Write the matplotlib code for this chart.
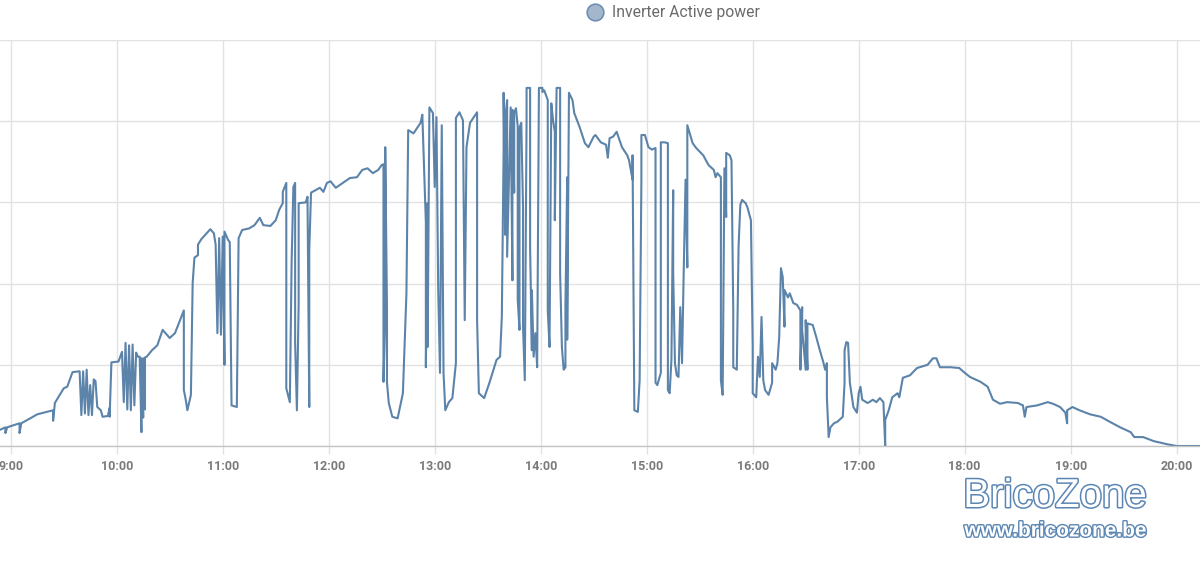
import matplotlib
matplotlib.use("Agg")
import matplotlib.pyplot as plt
from matplotlib.lines import Line2D
import matplotlib.patheffects as pe

# ---- data ----
times = [
    "08:54", "08:57", "08:57", "08:58", "09:05", "09:05", "09:06", "09:11", "09:15", "09:24",
    "09:24", "09:25", "09:30", "09:32", "09:35", "09:39", "09:40", "09:41", "09:42", "09:43",
    "09:44", "09:45", "09:46", "09:47", "09:48", "09:49", "09:51", "09:52", "09:55", "09:56",
    "09:56", "09:57", "10:01", "10:03", "10:04", "10:05", "10:06", "10:07", "10:08", "10:09",
    "10:10", "10:11", "10:12", "10:13", "10:14", "10:14", "10:15", "10:15", "10:16", "10:16",
    "10:17", "10:20", "10:23", "10:26", "10:30", "10:33", "10:38", "10:38", "10:39", "10:40",
    "10:42", "10:43", "10:44", "10:46", "10:46", "10:48", "10:53", "10:55", "10:56", "10:57",
    "10:58", "10:59", "11:00", "11:01", "11:01", "11:03", "11:04", "11:05", "11:08", "11:09",
    "11:11", "11:15", "11:18", "11:21", "11:23", "11:27", "11:30", "11:32", "11:34", "11:34",
    "11:36", "11:36", "11:38", "11:39", "11:40", "11:41", "11:41", "11:42", "11:43", "11:43",
    "11:47", "11:48", "11:49", "11:49", "11:50", "11:55", "11:57", "11:59", "12:01", "12:04",
    "12:08", "12:12", "12:16", "12:19", "12:22", "12:25", "12:28", "12:30", "12:31", "12:31",
    "12:32", "12:32", "12:33", "12:33", "12:34", "12:36", "12:39", "12:42", "12:44", "12:45",
    "12:48", "12:52", "12:53", "12:55", "12:55", "12:56", "12:56", "12:57", "12:59", "13:00",
    "13:01", "13:02", "13:03", "13:04", "13:05", "13:06", "13:08", "13:10", "13:12", "13:12",
    "13:14", "13:16", "13:17", "13:18", "13:20", "13:24", "13:24", "13:25", "13:28", "13:31",
    "13:35", "13:37", "13:38", "13:39", "13:39", "13:40", "13:40", "13:41", "13:41", "13:43",
    "13:44", "13:44", "13:45", "13:45", "13:46", "13:47", "13:47", "13:48", "13:48", "13:49",
    "13:50", "13:50", "13:51", "13:52", "13:52", "13:54", "13:54", "13:55", "13:55", "13:56",
    "13:57", "13:58", "13:59", "14:01", "14:01", "14:02", "14:04", "14:04", "14:04", "14:05",
    "14:06", "14:07", "14:08", "14:08", "14:09", "14:11", "14:11", "14:12", "14:13", "14:14",
    "14:14", "14:15", "14:15", "14:16", "14:18", "14:19", "14:22", "14:25", "14:27", "14:30",
    "14:31", "14:34", "14:37", "14:38", "14:39", "14:41", "14:43", "14:46", "14:49", "14:50",
    "14:52", "14:52", "14:53", "14:55", "14:56", "14:57", "14:57", "14:59", "15:01", "15:03",
    "15:05", "15:05", "15:06", "15:08", "15:08", "15:10", "15:12", "15:12", "15:13", "15:14",
    "15:15", "15:15", "15:16", "15:17", "15:18", "15:19", "15:20", "15:21", "15:22", "15:23",
    "15:23", "15:23", "15:26", "15:28", "15:32", "15:35", "15:38", "15:39", "15:40", "15:42",
    "15:42", "15:43", "15:44", "15:45", "15:45", "15:47", "15:48", "15:49", "15:49", "15:51",
    "15:52", "15:53", "15:54", "15:56", "15:57", "15:59", "16:00", "16:00", "16:02", "16:03",
    "16:04", "16:05", "16:06", "16:07", "16:09", "16:11", "16:11", "16:13", "16:14", "16:15",
    "16:16", "16:17", "16:18", "16:18", "16:20", "16:21", "16:23", "16:25", "16:27", "16:27",
    "16:28", "16:28", "16:30", "16:30", "16:31", "16:31", "16:34", "16:36", "16:38", "16:40",
    "16:41", "16:42", "16:42", "16:43", "16:44", "16:46", "16:48", "16:51", "16:52", "16:52",
    "16:53", "16:54", "16:55", "16:57", "16:59", "17:00", "17:01", "17:02", "17:05", "17:06",
    "17:08", "17:10", "17:12", "17:14", "17:15", "17:15", "17:17", "17:19", "17:22", "17:23",
    "17:25", "17:29", "17:33", "17:39", "17:42", "17:44", "17:46", "17:52", "17:57", "17:59",
    "18:03", "18:09", "18:13", "18:16", "18:20", "18:24", "18:30", "18:33", "18:34", "18:35",
    "18:41", "18:47", "18:50", "18:54", "18:57", "18:58", "18:58", "19:01", "19:05", "19:11",
    "19:17", "19:22", "19:28", "19:34", "19:36", "19:41", "19:47", "19:55", "20:00", "20:13",
]
power_kw = [
    0.20, 0.23, 0.16, 0.23, 0.28, 0.16, 0.28, 0.34, 0.39, 0.44,
    0.31, 0.53, 0.71, 0.73, 0.91, 0.92, 0.38, 0.92, 0.40, 0.94,
    0.38, 0.75, 0.38, 0.82, 0.80, 0.48, 0.44, 0.36, 0.37, 0.47,
    0.36, 1.03, 1.04, 1.16, 0.54, 1.27, 0.45, 1.24, 0.44, 1.25,
    0.50, 1.15, 1.10, 1.10, 0.17, 1.08, 0.35, 1.08, 0.45, 1.09,
    1.10, 1.18, 1.24, 1.43, 1.33, 1.39, 1.67, 0.69, 0.58, 0.44,
    0.63, 2.01, 2.32, 2.35, 2.48, 2.55, 2.67, 2.62, 2.48, 1.39,
    2.56, 1.37, 2.58, 1.00, 2.64, 2.54, 2.51, 0.50, 0.48, 2.56,
    2.66, 2.68, 2.72, 2.81, 2.72, 2.71, 2.78, 2.91, 2.99, 3.13,
    3.24, 0.71, 0.54, 2.25, 3.19, 3.24, 1.27, 0.44, 1.76, 2.99,
    3.00, 3.07, 0.48, 2.41, 3.12, 3.18, 3.13, 3.24, 3.26, 3.18,
    3.24, 3.30, 3.31, 3.40, 3.42, 3.36, 3.40, 3.46, 3.47, 0.79,
    1.55, 3.68, 1.67, 0.78, 0.53, 0.36, 0.34, 0.65, 1.88, 3.89,
    3.85, 3.98, 4.08, 2.75, 0.97, 2.99, 1.22, 4.17, 4.10, 3.19,
    4.05, 1.92, 0.90, 3.95, 0.90, 0.44, 0.54, 0.59, 1.02, 4.04,
    4.11, 4.01, 1.55, 3.68, 3.98, 4.11, 1.55, 0.65, 0.59, 0.78,
    1.06, 1.10, 1.59, 3.62, 4.35, 2.60, 4.05, 4.26, 2.33, 4.17,
    2.04, 4.14, 3.12, 4.10, 4.16, 3.93, 1.80, 1.43, 3.92, 3.98,
    2.94, 1.47, 0.81, 3.99, 4.41, 4.41, 2.45, 1.18, 1.92, 1.10,
    1.39, 0.97, 4.41, 4.41, 4.36, 4.38, 4.26, 3.31, 1.67, 1.22,
    4.22, 4.01, 3.87, 2.78, 4.41, 4.41, 2.13, 1.22, 0.94, 0.97,
    1.71, 3.31, 1.31, 4.35, 4.26, 4.10, 3.93, 3.73, 3.68, 3.81,
    3.83, 3.74, 3.71, 3.55, 3.79, 3.81, 3.87, 3.68, 3.58, 3.52,
    3.28, 3.58, 0.44, 0.42, 0.81, 3.28, 3.83, 3.83, 3.68, 3.65,
    3.67, 0.78, 0.75, 0.90, 3.74, 3.74, 3.73, 0.69, 0.65, 1.06,
    3.15, 2.13, 1.02, 0.87, 0.85, 1.71, 1.02, 2.20, 3.28, 2.20,
    3.68, 3.95, 3.73, 3.67, 3.58, 3.46, 3.40, 3.31, 3.36, 3.31,
    0.81, 0.63, 3.42, 2.82, 3.61, 3.58, 3.52, 1.67, 0.97, 0.94,
    2.45, 2.97, 3.03, 2.99, 2.94, 2.78, 1.22, 0.65, 0.60, 1.10,
    0.85, 1.59, 0.81, 0.69, 0.63, 0.78, 1.02, 0.94, 1.02, 1.34,
    2.19, 2.08, 1.47, 1.92, 1.83, 1.88, 1.76, 1.74, 1.67, 0.94,
    1.71, 1.43, 0.94, 1.55, 0.94, 1.51, 1.49, 1.34, 1.18, 1.03,
    0.94, 1.02, 0.60, 0.11, 0.23, 0.28, 0.30, 0.36, 0.78, 1.18,
    1.28, 1.27, 0.78, 0.48, 0.41, 0.65, 0.73, 0.57, 0.53, 0.54,
    0.57, 0.54, 0.59, 0.54, 0.00, 0.32, 0.44, 0.60, 0.65, 0.60,
    0.84, 0.87, 0.96, 1.00, 1.08, 1.08, 0.97, 0.97, 0.96, 0.92,
    0.85, 0.79, 0.73, 0.57, 0.52, 0.54, 0.53, 0.50, 0.36, 0.48,
    0.50, 0.54, 0.52, 0.48, 0.41, 0.28, 0.44, 0.48, 0.44, 0.39,
    0.36, 0.30, 0.23, 0.17, 0.11, 0.11, 0.06, 0.02, 0.00, 0.00,
]
tick_hours = [9, 10, 11, 12, 13, 14, 15, 16, 17, 18, 19, 20]
tick_labels = [f"{h}:00" for h in tick_hours]
series_name = "Inverter Active power"

hours = [int(t[:2]) + int(t[3:]) / 60 for t in times]

W, H = 1200, 576
fig = plt.figure(figsize=(W / 100, H / 100), dpi=100)
ax = fig.add_axes([0, 130 / H, 1, 406 / H])

line_color = "#4a76a0"
grid_color = "#e2e2e2"

ax.plot(hours, power_kw, color=line_color, lw=1.5, alpha=0.9)

ax.set_xlim(8.899, 20.22)
ax.set_ylim(0, 5)
ax.set_yticks([0, 1, 2, 3, 4, 5])
ax.set_xticks(tick_hours)
ax.set_xticklabels(tick_labels)
ax.grid(True, color=grid_color, lw=1)
ax.set_axisbelow(True)
for s in ["top", "left", "right"]:
    ax.spines[s].set_visible(False)
ax.spines["bottom"].set_color("#c4c4c4")
ax.spines["bottom"].set_linewidth(1)
ax.tick_params(axis="y", left=False, labelleft=False)
ax.tick_params(axis="x", length=6, width=1, color=grid_color, pad=4,
               labelsize=9, labelcolor="#7a7a7a")
for lab in ax.get_xticklabels():
    lab.set_fontfamily("Roboto")
    lab.set_fontweight("bold")

# legend
fig.add_artist(Line2D([595 / W], [1 - 12 / H], transform=fig.transFigure, marker="o",
                      markersize=12, markerfacecolor="#a3b6cc", markeredgecolor="#6f8fb2",
                      markeredgewidth=1.2, linestyle="none"))
fig.text(612 / W, 1 - 12 / H, series_name, ha="left", va="center", fontsize=11.3,
         color="#6a6a6a", family="Roboto")

# watermark
wm_color = "#5b86b4"
fig.text(1055 / W, 1 - 496 / H, "BricoZone", ha="center", va="center", fontsize=29,
         family="Liberation Sans", color="white",
         path_effects=[pe.withStroke(linewidth=2.2, foreground=wm_color)])
fig.text(1056 / W, 1 - 531 / H, "www.bricozone.be", ha="center", va="center", fontsize=15,
         family="Liberation Sans", fontweight="bold", color="white",
         path_effects=[pe.withStroke(linewidth=2.0, foreground=wm_color)])

fig.savefig("out.png", dpi=100, facecolor="white")
